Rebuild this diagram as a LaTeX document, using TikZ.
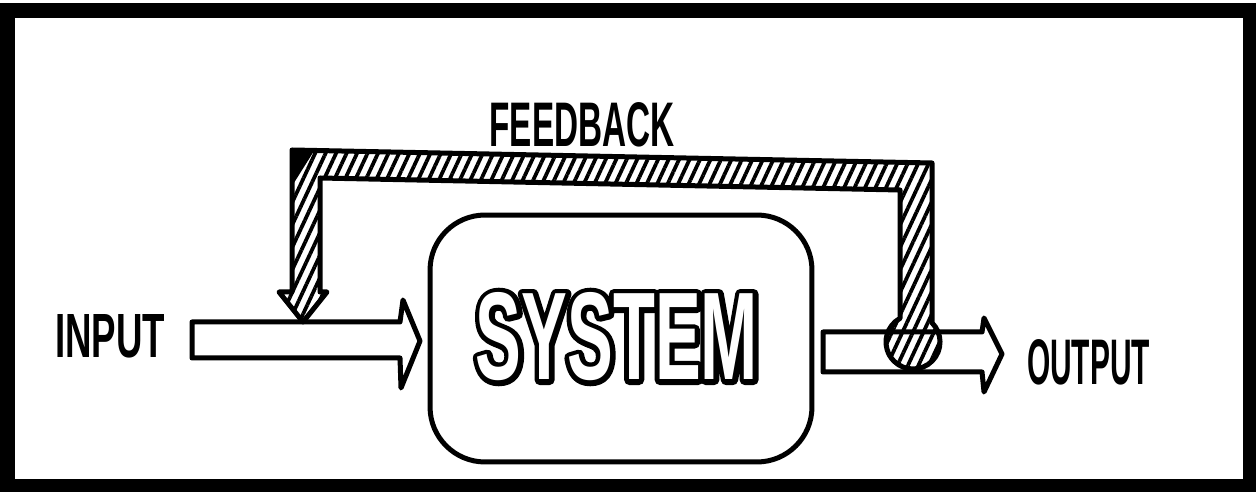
\documentclass[tikz,border=0pt]{standalone}
\usepackage{fontspec}
\setmainfont{Liberation Sans}
\newfontface\sysface[FakeStretch=0.55]{Liberation Sans Bold}
\usepackage{graphicx}
\usetikzlibrary{patterns.meta}
\tikzset{
  outl/.style={draw=black, line width=0.1cm, line join=round, line cap=round},
  blockarrow/.style={outl, fill=white},
  hatch/.style={outl, pattern={Lines[angle=65,distance=0.19cm,line width=0.075cm]}, pattern color=black},
  lbl/.style={inner sep=0pt, text=black},
  sysbox/.style={outl, rounded corners=1.1cm, minimum width=7.64cm, minimum height=4.94cm, inner sep=0pt},
}
\newcommand{\handtext}[3]{\resizebox{#1}{#2}{\bfseries #3}}
\newcommand{\systext}{{\sysface\fontsize{71pt}{71pt}\selectfont SYSTEM}}
\begin{document}
\begin{tikzpicture}[x=0.02cm,y=-0.02cm]
\useasboundingbox (0,0) rectangle (1256,492);
% frame
\fill[black] (0,3) rectangle (1256,492);
\fill[white] (15,18) rectangle (1243,479);

% system box
\node[sysbox] (sys) at (621,338.5) {};

% SYSTEM outlined lettering: stroked black layer, white fill on top
\coordinate (sysc) at (617,337);
\node[lbl] (sysout) at (sysc) {\special{pdf:literal direct 2 Tr 5.8 w 1 j}\systext};
\node[lbl, text=white] (systxt) at (sysc) {\systext};

% input arrow
\coordinate (i1) at (192,322);
\coordinate (i2) at (400,322);
\coordinate (i3) at (403,300);
\coordinate (i4) at (420,341);
\coordinate (i5) at (401,388);
\coordinate (i6) at (400,358);
\coordinate (i7) at (192,358);
\draw[blockarrow] (i1) -- (i2) -- (i3) -- (i4) -- (i5) -- (i6) -- (i7) -- cycle;

% output arrow
\coordinate (o1) at (823,332);
\coordinate (o2) at (982,332);
\coordinate (o3) at (984,318);
\coordinate (o4) at (1002,354);
\coordinate (o5) at (984,392);
\coordinate (o6) at (982,372);
\coordinate (o7) at (823,372);
\draw[blockarrow] (o1) -- (o2) -- (o3) -- (o4) -- (o5) -- (o6) -- (o7) -- cycle;

% feedback band
\coordinate (ftip) at (303,322);
\draw[hatch] (ftip) -- (279,292) -- (292,292) -- (292,150) -- (932,163)
  -- (932,322.8) arc[start angle=-45.3, end angle=241.3, radius=27]
  -- (900,190) -- (320,178) -- (320,292) -- (327,292) -- cycle;
\fill[black] (292,150) -- (314,151) -- (292,186) -- cycle;

% labels
\node[lbl] (input) at (110,336.5) {\handtext{2.2cm}{0.86cm}{INPUT}};
\node[lbl] (output) at (1088.5,362.5) {\handtext{2.46cm}{0.9cm}{OUTPUT}};
\node[lbl] (feedback) at (582,125) {\handtext{3.7cm}{0.88cm}{FEEDBACK}};
\end{tikzpicture}
\end{document}
